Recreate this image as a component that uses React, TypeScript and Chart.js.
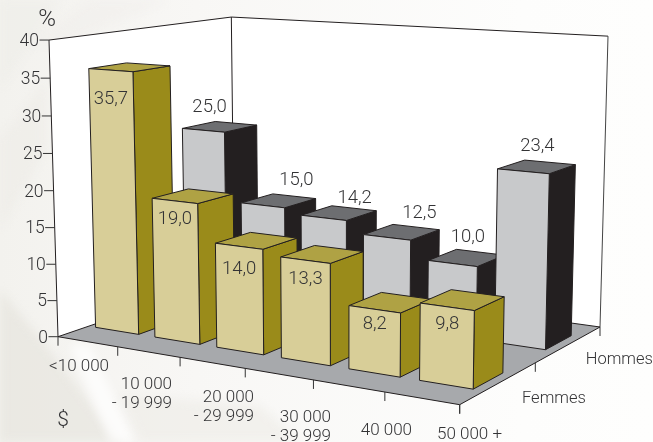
import React, { useEffect, useRef } from "react";
import Chart from "chart.js/auto";

const categories = [["<10 000"], ["10 000", "- 19 999"], ["20 000", "- 29 999"], ["30 000", "- 39 999"], ["40 000"], ["50 000 +"]];
const depthLabels = ["Femmes", "Hommes"];
const femmes = [35.7, 19.0, 14.0, 13.3, 8.2, 9.8];
const hommes = [25.0, 15.0, 14.2, 12.5, 10.0, 23.4];

// Layout of the perspective box (screen corners of the floor + wall height)
const A0 = [58, 336.7], B0 = [459.7, 404.7], C0 = [600, 327], D0 = [234.3, 276.3];
const VERT = { s: -0.0307, vx: 342, vy: 9703 };
const INK = "#231F20";
const TEXT = "#333335";
const LIGHT = "Roboto";

const den = (B0[0] - C0[0]) * (D0[1] - C0[1]) - (B0[1] - C0[1]) * (D0[0] - C0[0]);
const sx = A0[0] - B0[0] + C0[0] - D0[0], sy = A0[1] - B0[1] + C0[1] - D0[1];
const g = (sx * (D0[1] - C0[1]) - (D0[0] - C0[0]) * sy) / den;
const h = ((B0[0] - C0[0]) * sy - sx * (B0[1] - C0[1])) / den;
const a = B0[0] - A0[0] + g * B0[0], b = D0[0] - A0[0] + h * D0[0];
const d = B0[1] - A0[1] + g * B0[1], e = D0[1] - A0[1] + h * D0[1];
function project(u: number, w: number, v: number): [number, number] {
  const q = g * u + h * w + 1 + v * VERT.s;
  return [
    (a * u + b * w + A0[0] + v * VERT.s * VERT.vx) / q,
    (d * u + e * w + A0[1] + v * VERT.s * VERT.vy) / q,
  ];
}

const barSpan = [0.12, 0.85];
const depthSpan = [[-0.095, 0.1], [-0.097, 0.1]];
const sideColors = ["#9A8B1A", INK];
const topColors = ["#AFA244", "#6D6E71"];
const xLabelRight = [109, 172, 254, 331, 412, 502];
const xLabelTop = [367, 385, 398, 418, 431, 435];
const femmesLabelShift = [[0, 29], [0, 18], [0, 23.5], [0, 19], [0, 15], [0, 18]];
const hommesLabelShift = [[-10, -19], [18, -20], [16, -15], [18, -19], [1.5, -20], [1, -20]];
const depthLabelPos = [[522, 398.7], [585.7, 360]];

function poly(ctx: CanvasRenderingContext2D, pts: number[][], fill: string | null, stroke: string | null, lw = 1) {
  ctx.beginPath();
  pts.forEach((p, i) => (i ? ctx.lineTo(p[0], p[1]) : ctx.moveTo(p[0], p[1])));
  ctx.closePath();
  if (fill) { ctx.fillStyle = fill; ctx.fill(); }
  if (stroke) { ctx.strokeStyle = stroke; ctx.lineWidth = lw; ctx.lineJoin = "round"; ctx.stroke(); }
}
function line(ctx: CanvasRenderingContext2D, p: number[], q: number[], color = INK, lw = 1) {
  ctx.beginPath(); ctx.moveTo(p[0], p[1]); ctx.lineTo(q[0], q[1]);
  ctx.strokeStyle = color; ctx.lineWidth = lw; ctx.stroke();
}
function text(ctx: CanvasRenderingContext2D, s: string, x: number, y: number, size: number, align: CanvasTextAlign = "center") {
  ctx.font = `300 ${size}px ${LIGHT}`;
  ctx.fillStyle = TEXT; ctx.textAlign = align; ctx.textBaseline = "middle";
  ctx.fillText(s, x, y);
}

function paintBackground(ctx: CanvasRenderingContext2D, W: number, H: number) {
  const base = ctx.createLinearGradient(0, 0, W, 0);
  base.addColorStop(0, "#f3f2ee"); base.addColorStop(0.3, "#f8f7f5"); base.addColorStop(0.8, "#fdfdfc"); base.addColorStop(1, "#fefefd");
  ctx.fillStyle = base; ctx.fillRect(0, 0, W, H);
  const streaks: [number[][], string][] = [
    [[[0, 290], [50, 350], [120, 442], [0, 442]], "rgba(225,223,216,0.5)"],
    [[[70, 345], [110, 442], [135, 442], [90, 345]], "rgba(255,255,255,0.7)"],
    [[[120, 395], [260, 405], [300, 442], [140, 442]], "rgba(236,234,228,0.5)"],
    [[[0, 0], [60, 0], [0, 90]], "rgba(236,234,229,0.4)"],
    [[[90, 0], [170, 0], [60, 45], [30, 45]], "rgba(238,236,231,0.35)"],
    [[[0, 140], [46, 80], [46, 150], [0, 230]], "rgba(234,232,227,0.4)"],
  ];
  ctx.save();
  ctx.filter = "blur(5px)";
  streaks.forEach(([pts, c]) => poly(ctx, pts, c, null));
  ctx.restore();
}

const box3d = {
  id: "box3d",
  beforeDraw(chart: any) {
    const { ctx, width, height, scales } = chart;
    const { x, y, depth } = scales;
    ctx.save();
    paintBackground(ctx, width, height);
    const p = project;
    // walls
    poly(ctx, [p(0,0,0), p(0,0,1), p(0,1,1), p(1,1,1), p(1,1,0), p(0,1,0)], "#ffffff", null);
    line(ctx, p(0,0,0), p(0,0,1));
    line(ctx, p(0,0,1), p(0,1,1));
    line(ctx, p(0,1,0), p(0,1,1));
    line(ctx, p(0,1,1), p(1,1,1));
    line(ctx, p(1,1,1), p(1,1,0), "#444");
    // floor
    poly(ctx, [p(0,0,0), p(1,0,0), p(1,1,0), p(0,1,0)], "#A7A9AC", INK);
    // y ticks
    y.ticks.forEach((t: any) => {
      const q = p(0, 0, (y.bottom - y.getPixelForValue(t.value)) / y.height);
      line(ctx, [q[0] - 9.5, q[1]], q, "#333");
      text(ctx, String(t.label), q[0] - 10, q[1] + 1.5, 17.5, "right");
    });
    // x ticks and labels
    for (let k = 0; k <= categories.length; k++) {
      const q = p(k / categories.length, 0, 0);
      line(ctx, q, [q[0], q[1] + 9], "#333");
    }
    categories.forEach((c: string[], i: number) => {
      const lbl = x.getLabels()[i] as string[];
      lbl.forEach((s, j) => text(ctx, s, xLabelRight[i], xLabelTop[i] + j * 18.5, 17, "right"));
    });
    // depth ticks and labels
    depthLabels.concat("").forEach((_, i) => {
      const q = p(1, i / depthLabels.length, 0);
      line(ctx, q, [q[0], q[1] + 9], "#333");
    });
    (depth.getLabels() as string[]).forEach((s, i) => text(ctx, s, depthLabelPos[i][0], depthLabelPos[i][1], 16.5, "left"));
    text(ctx, "%", 47, 20, 24);
    text(ctx, "$", 63, 421, 21);
    ctx.restore();
  },
  beforeDatasetsDraw(chart: any) {
    const { ctx, scales, data } = chart;
    const { x, y, depth } = scales;
    const cat = x.width / data.labels.length;
    const labels: any[] = [];
    ctx.save();
    [1, 0].forEach((ds) => {
      const set = data.datasets[ds];
      const wc = (depth.getPixelForValue(ds) - depth.left) / depth.width;
      const w0 = wc + depthSpan[ds][0], w1 = wc + depthSpan[ds][1];
      set.data.forEach((val: number, i: number) => {
        const left = x.getPixelForValue(i) - cat / 2;
        const u0 = (left + cat * barSpan[0] - x.left) / x.width;
        const u1 = (left + cat * barSpan[1] - x.left) / x.width;
        const v = (y.bottom - y.getPixelForValue(val)) / y.height;
        const a0 = project(u0, w0, 0), b0 = project(u1, w0, 0), c0 = project(u1, w1, 0);
        const a1 = project(u0, w0, v), b1 = project(u1, w0, v), c1 = project(u1, w1, v), d1 = project(u0, w1, v);
        poly(ctx, [b0, c0, c1, b1], sideColors[ds], INK);
        poly(ctx, [a1, b1, c1, d1], topColors[ds], INK);
        poly(ctx, [a0, b0, b1, a1], set.backgroundColor, INK);
        const txt = val.toFixed(1).replace(".", ",");
        if (ds === 0) {
          const s = femmesLabelShift[i];
          labels.push([txt, (a1[0] + b1[0]) / 2 + s[0], (a1[1] + b1[1]) / 2 + s[1]]);
        } else {
          const s = hommesLabelShift[i];
          labels.push([txt, (a1[0] + c1[0]) / 2 + s[0], (a1[1] + c1[1]) / 2 + s[1]]);
        }
      });
    });
    labels.forEach((l) => text(ctx, l[0], l[1], l[2], 18.5));
    ctx.restore();
    return false;
  },
};

export default function App() {
  const ref = useRef<HTMLCanvasElement>(null);
  useEffect(() => {
    document.body.style.margin = "0";
    const chart = new Chart(ref.current as HTMLCanvasElement, {
      type: "bar",
      data: {
        labels: categories as any,
        datasets: [
          { label: "Femmes", data: femmes, backgroundColor: "#D8CE98" },
          { label: "Hommes", data: hommes, backgroundColor: "#C8C9CB" },
        ],
      },
      options: {
        responsive: false,
        animation: false,
        layout: { padding: { left: A0[0], right: 653 - B0[0], top: 40, bottom: 442 - A0[1] } },
        plugins: { legend: { display: false }, tooltip: { enabled: false } },
        scales: {
          x: { display: false },
          y: { display: false, min: 0, max: 40, ticks: { stepSize: 5 } },
          depth: { type: "category", axis: "x", labels: depthLabels, display: false, offset: true },
        },
      } as any,
      plugins: [box3d as any],
    });
    return () => chart.destroy();
  }, []);
  return <canvas ref={ref} width={653} height={442} style={{ display: "block" }} />;
}
